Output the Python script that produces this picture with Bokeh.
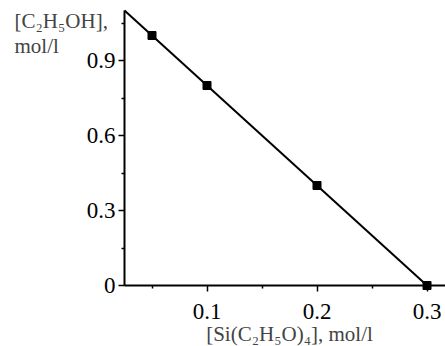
import numpy as np
from bokeh.plotting import figure
from bokeh.models import Range1d, Label, FixedTicker, LinearAxis
from bokeh.embed import file_html
from bokeh.resources import INLINE

# Measured concentrations
teos = [0.05, 0.1, 0.2, 0.3]          # [Si(C2H5O)4], mol/l
ethanol = [1.0, 0.8, 0.4, 0.0]        # [C2H5OH], mol/l
x_ticks = [0.1, 0.2, 0.3]
x_minor = [0.05, 0.15, 0.25]
y_ticks = [0, 0.3, 0.6, 0.9]
y_minor = [0.15, 0.45, 0.75, 1.05]

# Axis extents (data units) and the canvas margins around them (pixels)
X_START, X_END = 0.025, 0.3168
Y_START, Y_END = 0.0, 1.1
W, H = 445, 346
LEFT, TOP, BOTTOM = 124, 10, 61

x_per_px = (X_END - X_START) / (W - LEFT)
y_per_px = (Y_END - Y_START) / (H - TOP - BOTTOM)

# The frame fills the whole canvas; the axes sit at fixed data locations
p = figure(width=W, height=H, output_backend="svg", toolbar_location=None,
           x_range=Range1d(X_START - LEFT * x_per_px, X_END),
           y_range=Range1d(Y_START - BOTTOM * y_per_px, Y_END + TOP * y_per_px),
           x_axis_location=None, y_axis_location=None,
           min_border=0)
p.outline_line_color = None
p.grid.visible = False
p.background_fill_color = "white"
p.border_fill_color = "white"

# Linear fit through the points, drawn from the y axis down to zero
slope, intercept = np.polyfit(teos, ethanol, 1)
x_fit = np.array([X_START, -intercept / slope])
p.line(x_fit, slope * x_fit + intercept, line_color="black", line_width=2)
p.scatter(teos, ethanol, marker="square", size=8, color="black")

serif = "Liberation Serif"
xaxis = LinearAxis(fixed_location=Y_START, bounds=(X_START, X_END),
                   ticker=FixedTicker(ticks=x_ticks, minor_ticks=x_minor))
yaxis = LinearAxis(fixed_location=X_START, bounds=(Y_START, Y_END),
                   ticker=FixedTicker(ticks=y_ticks, minor_ticks=y_minor))
for ax in (xaxis, yaxis):
    ax.axis_line_width = 2
    ax.axis_line_color = "black"
    ax.major_tick_line_color = "black"
    ax.minor_tick_line_color = "black"
    ax.major_tick_line_width = 1.5
    ax.minor_tick_line_width = 1.5
    ax.major_tick_out = 6
    ax.major_tick_in = 0
    ax.minor_tick_out = 3
    ax.minor_tick_in = 0
    ax.major_label_text_font = serif
    ax.major_label_text_font_size = "23px"
    ax.major_label_text_color = "black"
xaxis.major_label_standoff = 12
yaxis.major_label_standoff = 3
p.add_layout(xaxis, "below")
p.add_layout(yaxis, "left")

# Axis titles
p.add_layout(Label(x=X_START + 165 * x_per_px, y=Y_START - 60 * y_per_px,
                   text="[Si(C\u2082H\u2085O)\u2084], mol/l", text_font=serif,
                   text_font_size="21px", text_align="center",
                   text_baseline="bottom"))
p.add_layout(Label(x=14, y=8, x_units="canvas", y_units="canvas",
                   text="[C\u2082H\u2085OH],", text_font=serif,
                   text_font_size="21px", text_baseline="top"))
p.add_layout(Label(x=14, y=33, x_units="canvas", y_units="canvas",
                   text="mol/l", text_font=serif,
                   text_font_size="21px", text_baseline="top"))

open("out.html", "w").write(file_html(p, INLINE))
